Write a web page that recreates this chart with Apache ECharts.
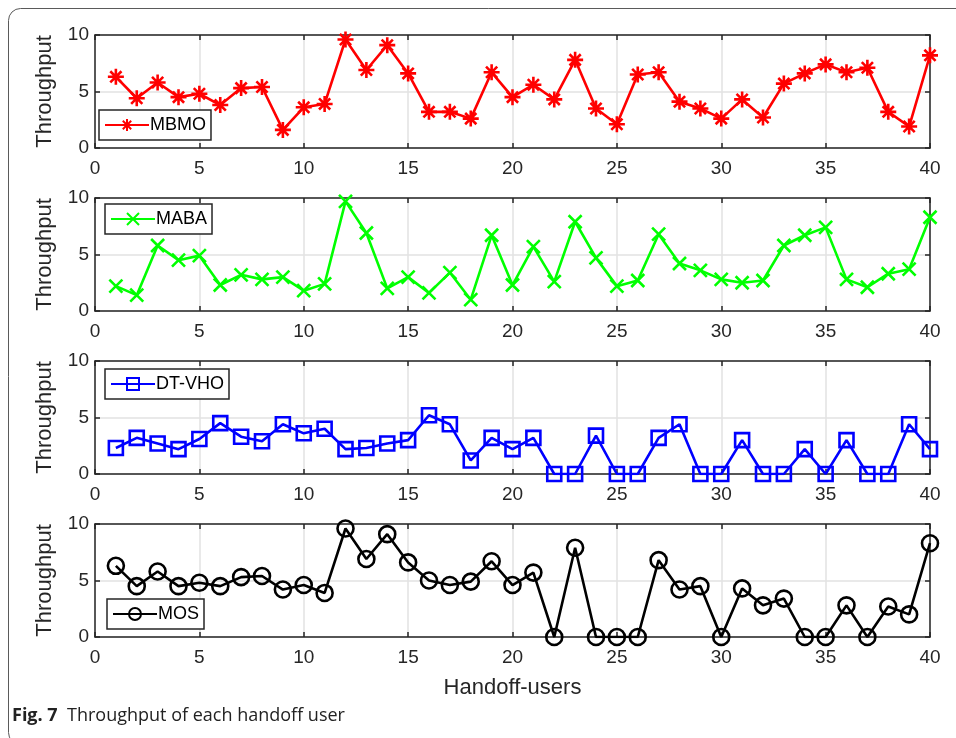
<!DOCTYPE html>
<html>
<head>
<meta charset="utf-8">
<script src="https://cdn.jsdelivr.net/npm/echarts@6/dist/echarts.min.js"></script>
<style>
html,body{margin:0;padding:0;background:#fff;}
#c{width:956px;height:738px;}
</style>
</head>
<body>
<div id="c"></div>
<script>
// ---- data ----
const users = [1,2,3,4,5,6,7,8,9,10,11,12,13,14,15,16,17,18,19,20,21,22,23,24,25,26,27,28,29,30,31,32,33,34,35,36,37,38,39,40];
const seriesNames = ['MBMO','MABA','DT-VHO','MOS'];
const mbmo = [6.3,4.4,5.8,4.5,4.8,3.8,5.3,5.4,1.6,3.6,3.9,9.6,6.9,9.1,6.6,3.2,3.2,2.6,6.7,4.5,5.6,4.3,7.8,3.5,2.1,6.5,6.7,4.1,3.5,2.6,4.3,2.7,5.7,6.6,7.4,6.7,7.1,3.2,1.9,8.2];
const maba = [2.2,1.4,5.8,4.5,4.9,2.3,3.2,2.8,3.0,1.8,2.4,9.7,6.9,2.0,3.0,1.6,3.4,1.0,6.7,2.3,5.7,2.6,7.9,4.7,2.2,2.7,6.8,4.2,3.6,2.8,2.5,2.7,5.8,6.7,7.4,2.8,2.1,3.3,3.7,8.3];
const dtvho = [2.3,3.2,2.7,2.2,3.1,4.5,3.3,2.9,4.4,3.6,4.0,2.2,2.3,2.7,3.0,5.2,4.4,1.2,3.2,2.2,3.2,0,0,3.4,0,0,3.2,4.4,0,0,3.0,0,0,2.2,0,3.0,0,0,4.4,2.2];
const mos = [6.3,4.5,5.8,4.5,4.8,4.5,5.3,5.4,4.2,4.6,3.9,9.6,6.9,9.1,6.6,5.0,4.6,4.9,6.7,4.6,5.7,0,7.9,0,0,0,6.8,4.2,4.5,0,4.3,2.8,3.4,0,0,2.8,0,2.7,2.0,8.3];
const xTicks = [0,5,10,15,20,25,30,35,40];
const yTicks = [0,5,10];
const allValues = [mbmo, maba, dtvho, mos];

// ---- styling ----
const colors = ['#ff0000','#00ff00','#0000ff','#000000'];
const symbols = [
  'path://M5 0L5 10M0 5L10 5M1.5 1.5L8.5 8.5M8.5 1.5L1.5 8.5',
  'path://M0 0L10 10M10 0L0 10',
  'rect',
  'circle'
];
const symbolSizes = [16, 13, 14, 16];
const gridTops = [35, 198, 361, 524];
const gridH = 113;
const legendPos = [
  {left: 99, top: 110},
  {left: 105, top: 204},
  {left: 105, top: 369},
  {left: 107, top: 599}
];
const axisCol = '#262626';
const font = 'Liberation Sans, Arial, Helvetica, sans-serif';

const grids = [], xAxes = [], yAxes = [], series = [], legends = [];
gridTops.forEach((t, i) => {
  grids.push({left: 95, right: 26, top: t, height: gridH, containLabel: false});
  xAxes.push({
    type: 'value', gridIndex: i, min: 0, max: 40, interval: 5, position: 'bottom',
    name: i === 3 ? 'Handoff-users' : '', nameLocation: 'middle', nameGap: 40,
    nameTextStyle: {fontFamily: font, fontSize: 22, color: axisCol},
    axisLine: {show: true, onZero: false, lineStyle: {color: axisCol, width: 1.5}},
    axisTick: {show: true, inside: true, length: 5, lineStyle: {color: axisCol, width: 1.5}},
    axisLabel: {fontFamily: font, fontSize: 19, color: axisCol, margin: 11,
      formatter: v => xTicks.includes(v) ? String(v) : ''},
    splitLine: {show: true, lineStyle: {color: '#e2e2e2', width: 1.5}}
  });
  xAxes.push({
    type: 'value', gridIndex: i, min: 0, max: 40, interval: 5, position: 'top',
    axisLine: {show: true, onZero: false, lineStyle: {color: axisCol, width: 1.5}},
    axisTick: {show: true, inside: true, length: 5, lineStyle: {color: axisCol, width: 1.5}},
    axisLabel: {show: false}, splitLine: {show: false}
  });
  yAxes.push({
    type: 'value', gridIndex: i, min: 0, max: 10, interval: 5, position: 'left',
    name: 'Throughput', nameLocation: 'middle', nameGap: 39, nameRotate: 90,
    nameTextStyle: {fontFamily: font, fontSize: 22, color: axisCol},
    axisLine: {show: true, onZero: false, lineStyle: {color: axisCol, width: 1.5}},
    axisTick: {show: true, inside: true, length: 5, lineStyle: {color: axisCol, width: 1.5}},
    axisLabel: {fontFamily: font, fontSize: 19, color: axisCol, margin: 6,
      formatter: v => yTicks.includes(v) ? String(v) : ''},
    splitLine: {show: true, lineStyle: {color: '#e2e2e2', width: 1.5}}
  });
  yAxes.push({
    type: 'value', gridIndex: i, min: 0, max: 10, interval: 5, position: 'right',
    axisLine: {show: true, onZero: false, lineStyle: {color: axisCol, width: 1.5}},
    axisTick: {show: true, inside: true, length: 5, lineStyle: {color: axisCol, width: 1.5}},
    axisLabel: {show: false}, splitLine: {show: false}
  });
  const hollow = (i >= 2);
  series.push({
    name: seriesNames[i], type: 'line',
    xAxisIndex: i * 2, yAxisIndex: i * 2,
    data: users.map((u, k) => [u, allValues[i][k]]),
    symbol: symbols[i], symbolSize: symbolSizes[i], showAllSymbol: true,
    lineStyle: {color: colors[i], width: 2.6},
    itemStyle: {color: hollow ? 'rgba(0,0,0,0)' : colors[i], borderColor: colors[i], borderWidth: 2.6},
    emphasis: {disabled: true},
    animation: false, z: 5
  });
  legends.push({
    data: [seriesNames[i]], left: legendPos[i].left, top: legendPos[i].top,
    orient: 'horizontal', backgroundColor: '#fff',
    borderColor: axisCol, borderWidth: 1.5, borderRadius: 0,
    padding: [6, 5, 6, 5], itemWidth: 44, itemHeight: 15, itemGap: 0,
    textStyle: {fontFamily: font, fontSize: 18, color: '#000', padding: [0,0,0,-4]},
    selectedMode: false, z: 10
  });
});

const chart = echarts.init(document.getElementById('c'), null, {renderer: 'canvas'});
chart.setOption({
  animation: false,
  backgroundColor: '#fff',
  grid: grids, xAxis: xAxes, yAxis: yAxes, series: series, legend: legends,
  graphic: [
    {type: 'rect', shape: {x: 8.5, y: 8.5, width: 1000, height: 736, r: 12},
     style: {stroke: '#5a5a5a', lineWidth: 1, fill: 'none'}, silent: true, z: 0},
    {type: 'text', left: 12, top: 707,
     style: {
       text: '{b|Fig. 7}  Throughput of each handoff user',
       rich: {b: {fontWeight: 'bold', fontFamily: 'Open Sans, Noto Sans, sans-serif', fontSize: 18, fill: '#222'}},
       fontFamily: 'Open Sans, Noto Sans, sans-serif', fontSize: 18, fill: '#222'
     }, z: 10}
  ]
});
</script>
</body>
</html>
